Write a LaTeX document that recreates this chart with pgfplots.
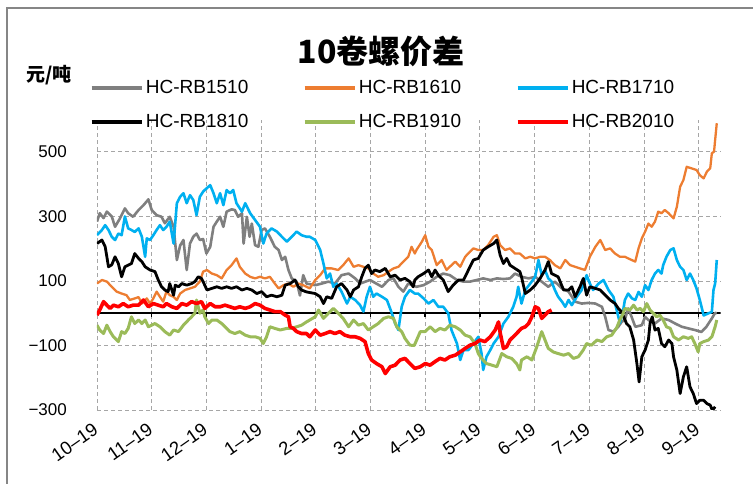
\documentclass[border=0pt]{standalone}
\usepackage{fontspec}
\setmainfont{Liberation Sans}
\newfontfamily\cjk{Noto Sans CJK SC}
\usepackage{pgfplots}
\usepackage{pgfplotstable}
\pgfplotsset{compat=1.18}

\definecolor{cgray}{HTML}{7F7F7F}
\definecolor{corange}{HTML}{ED7D31}
\definecolor{cblue}{HTML}{00B0F0}
\definecolor{cgreen}{HTML}{9BBB59}
\definecolor{cgrid}{HTML}{A6A6A6}
\definecolor{cframe}{HTML}{868686}

% x = months since 1 Oct (0 = 10-19), y = spread in yuan/t
\pgfplotstableread{
x y
0.00 284
0.05 310
0.12 295
0.18 315
0.27 300
0.33 268
0.42 294
0.51 325
0.57 310
0.66 299
0.76 320
0.85 335
0.94 353
1.00 320
1.09 304
1.18 299
1.24 279
1.33 299
1.40 268
1.46 165
1.52 210
1.58 227
1.64 134
1.70 216
1.76 237
1.82 247
1.88 227
1.94 230
2.00 185
2.07 206
2.13 268
2.19 284
2.25 299
2.31 268
2.37 315
2.46 322
2.52 320
2.58 299
2.65 310
2.68 216
2.74 299
2.79 237
2.83 278
2.89 211
2.95 206
3.01 258
3.07 263
3.16 237
3.25 206
3.32 196
3.38 165
3.44 175
3.50 134
3.56 108
3.65 98
3.71 55
3.77 118
3.83 92
3.99 87
4.11 92
4.23 98
4.35 92
4.47 118
4.60 123
4.72 108
4.81 92
4.99 103
5.21 82
5.33 103
5.42 108
5.51 82
5.60 67
5.69 92
5.84 82
5.97 87
6.09 98
6.21 113
6.33 123
6.45 118
6.58 103
6.70 98
6.82 98
6.94 103
7.06 108
7.19 103
7.31 108
7.43 106
7.55 108
7.64 123
7.76 113
7.89 108
8.01 113
8.13 98
8.25 82
8.37 98
8.50 77
8.62 67
8.74 36
8.86 30
8.98 32
9.11 30
9.23 20
9.29 -11
9.35 -52
9.44 -57
9.53 -42
9.59 -27
9.65 -20
9.71 15
9.77 -10
9.84 -42
9.96 -37
10.02 -11
10.08 -21
10.20 -32
10.32 -16
10.45 -21
10.57 -32
10.69 -42
10.81 -47
10.93 -52
11.05 -58
11.14 -42
11.24 -16
11.30 1
11.33 0
}\rbfifteen

\pgfplotstableread{
x y
0.00 92
0.09 103
0.18 98
0.27 82
0.36 67
0.45 61
0.54 56
0.60 41
0.69 46
0.76 50
0.82 30
0.91 46
0.97 30
1.03 46
1.09 67
1.15 51
1.21 36
1.27 67
1.33 56
1.40 51
1.46 41
1.52 61
1.61 72
1.70 77
1.79 82
1.88 98
1.94 129
2.01 134
2.10 123
2.19 118
2.28 108
2.37 134
2.46 149
2.55 170
2.61 144
2.71 123
2.80 113
2.89 108
2.98 113
3.07 108
3.16 113
3.25 92
3.32 77
3.41 87
3.50 92
3.59 82
3.68 92
3.77 87
3.89 77
3.99 103
4.08 118
4.17 139
4.29 139
4.41 134
4.50 149
4.60 170
4.69 144
4.78 149
4.87 144
4.96 139
5.05 123
5.14 113
5.24 118
5.33 129
5.42 139
5.51 144
5.60 160
5.69 175
5.75 206
5.81 185
5.84 196
5.94 222
6.00 242
6.06 206
6.12 196
6.21 149
6.30 165
6.39 134
6.48 149
6.55 160
6.64 144
6.73 175
6.82 191
6.88 201
6.97 196
7.06 196
7.15 211
7.25 237
7.31 242
7.37 211
7.46 196
7.55 201
7.64 185
7.73 185
7.83 170
7.92 175
8.01 170
8.10 175
8.19 175
8.28 165
8.37 149
8.47 139
8.56 165
8.65 149
8.74 144
8.83 139
8.92 134
9.01 175
9.11 206
9.20 227
9.29 196
9.38 201
9.47 185
9.56 175
9.65 175
9.71 170
9.84 160
9.90 201
9.96 232
10.02 253
10.08 278
10.14 268
10.20 284
10.26 315
10.32 310
10.38 320
10.45 310
10.54 294
10.60 330
10.66 392
10.72 413
10.78 454
10.87 449
10.96 444
11.02 428
11.09 418
11.15 439
11.21 449
11.24 496
11.28 501
11.30 537
11.33 589
}\rbsixteen

\pgfplotstableread{
x y
0.00 242
0.09 258
0.15 273
0.21 258
0.27 237
0.33 227
0.39 247
0.45 242
0.51 300
0.57 263
0.63 258
0.69 252
0.76 263
0.82 237
0.88 175
0.91 232
0.97 227
1.03 242
1.09 258
1.15 273
1.21 258
1.27 268
1.33 284
1.40 216
1.46 341
1.52 361
1.58 372
1.64 341
1.70 366
1.76 351
1.82 304
1.88 361
1.94 377
1.97 382
2.07 397
2.13 372
2.19 341
2.25 372
2.31 335
2.37 382
2.43 372
2.49 382
2.55 341
2.65 315
2.71 341
2.80 310
2.89 289
2.98 268
3.04 216
3.10 247
3.19 263
3.29 253
3.38 237
3.47 222
3.56 237
3.65 253
3.74 242
3.83 237
3.89 237
3.99 227
4.08 196
4.14 154
4.20 108
4.26 123
4.32 82
4.38 92
4.47 67
4.57 30
4.63 51
4.72 41
4.81 25
4.87 5
4.93 51
4.99 82
5.05 51
5.11 61
5.21 51
5.30 41
5.39 0
5.45 -32
5.51 -52
5.57 20
5.63 51
5.72 72
5.81 61
5.87 61
5.97 46
6.06 30
6.15 41
6.24 20
6.33 20
6.42 0
6.48 -52
6.58 -94
6.64 -145
6.70 -114
6.79 -114
6.88 -94
6.97 -73
7.03 -125
7.06 -176
7.12 -135
7.19 -114
7.25 -94
7.34 -73
7.43 -32
7.52 -11
7.61 20
7.67 51
7.70 82
7.76 30
7.83 72
7.92 92
8.01 113
8.07 165
8.13 118
8.19 134
8.25 108
8.31 98
8.37 72
8.43 51
8.50 36
8.56 20
8.62 41
8.68 25
8.77 51
8.86 72
8.95 118
9.01 92
9.07 72
9.17 92
9.26 103
9.35 72
9.44 51
9.50 10
9.56 -30
9.62 10
9.65 41
9.71 61
9.78 46
9.84 41
9.90 66
9.96 51
10.02 87
10.08 72
10.14 103
10.20 123
10.26 134
10.32 123
10.35 149
10.41 175
10.48 196
10.54 201
10.60 165
10.66 144
10.72 134
10.78 103
10.84 123
10.90 103
10.96 77
11.02 41
11.09 -7
11.18 0
11.24 4
11.27 72
11.30 92
11.33 165
}\rbseventeen

\pgfplotstableread{
x y
0.00 216
0.09 227
0.15 206
0.21 144
0.27 150
0.33 175
0.39 154
0.45 113
0.51 144
0.57 149
0.63 154
0.69 185
0.76 170
0.82 160
0.88 144
0.97 134
1.06 129
1.12 103
1.18 82
1.24 72
1.30 67
1.33 92
1.40 56
1.43 87
1.49 82
1.55 92
1.64 87
1.73 92
1.79 98
1.85 113
1.91 108
1.94 98
2.01 72
2.10 77
2.19 82
2.28 77
2.37 82
2.46 77
2.55 82
2.65 72
2.74 77
2.83 72
2.92 61
3.01 67
3.10 51
3.19 56
3.29 51
3.38 56
3.44 87
3.53 92
3.62 103
3.68 82
3.74 72
3.83 66
3.99 61
4.08 51
4.14 30
4.20 51
4.29 46
4.38 82
4.47 92
4.57 72
4.63 51
4.69 72
4.78 82
4.84 113
4.90 139
4.96 149
5.02 123
5.08 134
5.17 129
5.27 139
5.36 113
5.45 118
5.54 103
5.63 108
5.72 98
5.78 82
5.81 103
5.87 113
5.97 123
6.06 134
6.12 113
6.18 134
6.24 118
6.33 103
6.42 67
6.51 87
6.61 103
6.70 103
6.79 134
6.88 165
6.97 170
7.06 196
7.15 206
7.25 216
7.31 227
7.37 180
7.43 154
7.49 170
7.55 149
7.64 139
7.73 129
7.76 113
7.83 61
7.92 72
8.01 87
8.10 108
8.19 134
8.25 160
8.31 123
8.37 118
8.43 113
8.53 72
8.62 72
8.68 82
8.74 51
8.83 82
8.89 108
8.95 56
9.01 82
9.11 77
9.20 72
9.29 56
9.38 41
9.47 30
9.53 15
9.59 5
9.68 -32
9.74 -42
9.81 -83
9.87 -156
9.91 -213
9.96 -135
10.02 -114
10.08 -83
10.11 -32
10.15 -11
10.20 -52
10.26 -47
10.32 -94
10.38 -104
10.45 -83
10.51 -94
10.54 -135
10.60 -176
10.66 -249
10.72 -197
10.78 -166
10.84 -228
10.90 -249
10.96 -280
11.02 -270
11.09 -270
11.15 -280
11.21 -285
11.25 -301
11.30 -290
}\rbeighteen

\pgfplotstableread{
x y
0.00 -37
0.05 -52
0.12 -63
0.18 -37
0.24 -57
0.30 -73
0.39 -88
0.45 -57
0.51 -63
0.57 -47
0.63 -11
0.69 -32
0.76 -21
0.82 -32
0.88 -21
0.94 -42
1.00 -37
1.06 -32
1.15 -42
1.24 -57
1.33 -68
1.40 -52
1.49 -57
1.58 -37
1.67 -21
1.73 -11
1.79 0
1.82 41
1.88 0
1.94 10
1.97 -11
2.04 -32
2.10 -21
2.19 -21
2.28 -32
2.34 -42
2.43 -57
2.52 -63
2.61 -57
2.71 -68
2.80 -73
2.89 -73
2.98 -78
3.04 -94
3.10 -73
3.16 -42
3.25 -47
3.35 -52
3.47 -47
3.56 -47
3.65 -42
3.74 -37
3.83 -27
3.89 -21
3.99 -11
4.05 10
4.14 -16
4.23 0
4.32 15
4.41 0
4.50 -16
4.60 -42
4.69 -21
4.78 -37
4.87 -32
4.96 -52
5.05 -42
5.14 -32
5.24 -16
5.33 -11
5.42 -16
5.48 -42
5.57 -57
5.63 -78
5.72 -99
5.80 -100
5.91 -57
6.00 -57
6.09 -42
6.18 -57
6.27 -47
6.36 -52
6.45 -37
6.55 -42
6.64 -52
6.73 -68
6.82 -73
6.91 -94
6.97 -125
7.03 -140
7.12 -156
7.22 -161
7.31 -166
7.40 -125
7.49 -135
7.58 -140
7.67 -156
7.73 -176
7.76 -145
7.86 -135
7.95 -145
8.04 -104
8.13 -57
8.19 -83
8.25 -109
8.34 -120
8.43 -125
8.53 -130
8.62 -125
8.71 -140
8.80 -135
8.89 -114
8.95 -94
9.04 -99
9.14 -83
9.23 -88
9.32 -73
9.41 -68
9.50 -45
9.56 -20
9.62 0
9.65 15
9.74 10
9.81 25
9.87 10
9.93 15
9.99 5
10.05 30
10.11 10
10.17 0
10.23 -11
10.29 -6
10.35 -21
10.41 -42
10.48 -47
10.54 -73
10.63 -83
10.72 -73
10.81 -78
10.87 -73
10.93 -94
10.99 -120
11.02 -94
11.09 -88
11.18 -83
11.24 -73
11.30 -42
11.33 -21
}\rbnineteen

\pgfplotstableread{
x y
0.00 -6
0.05 10
0.12 36
0.18 25
0.24 15
0.30 25
0.39 20
0.48 30
0.57 20
0.66 25
0.76 25
0.85 41
0.94 20
1.03 30
1.12 25
1.21 20
1.27 30
1.37 20
1.46 15
1.55 30
1.64 25
1.73 36
1.82 30
1.91 36
1.97 15
2.07 30
2.16 20
2.25 20
2.34 25
2.43 20
2.52 15
2.61 20
2.71 15
2.80 20
2.89 30
2.98 25
3.07 15
3.16 10
3.25 5
3.35 5
3.44 -6
3.50 -11
3.53 -42
3.59 -47
3.65 -57
3.74 -63
3.83 -63
3.89 -73
3.99 -52
4.08 -68
4.17 -63
4.26 -57
4.35 -63
4.44 -57
4.53 -68
4.63 -73
4.72 -73
4.81 -78
4.90 -88
4.96 -125
5.02 -145
5.11 -156
5.21 -166
5.27 -187
5.36 -166
5.45 -161
5.54 -145
5.63 -140
5.72 -156
5.81 -171
5.91 -166
6.00 -156
6.09 -161
6.18 -150
6.27 -140
6.36 -145
6.45 -135
6.55 -130
6.64 -120
6.73 -109
6.82 -99
6.91 -94
7.00 -83
7.09 -88
7.19 -73
7.28 -52
7.34 -27
7.37 -60
7.43 -109
7.49 -104
7.55 -83
7.61 -73
7.67 -63
7.73 -52
7.76 -47
7.83 -42
7.89 -32
7.95 -11
8.01 20
8.07 15
8.13 -16
8.19 -6
8.25 5
8.31 10
}\rbtwenty

\begin{document}
\begin{tikzpicture}
  \path[use as bounding box] (0pt,0pt) rectangle (753pt,484pt);
  \draw[cframe, line width=1.2pt] (7pt,-20pt) rectangle (800pt,476pt);
  \node[font=\cjk\bfseries\fontsize{32}{36}\selectfont] at (381pt,433pt) {10卷螺价差};
  \node[font=\cjk\bfseries\fontsize{19}{22}\selectfont] at (49pt,409pt) {元/吨};

  \begin{axis}[
    at={(97pt,74pt)}, anchor=south west,
    scale only axis,
    width=623.6pt, height=290.3pt,
    xmin=0, xmax=11.4,
    ymin=-300, ymax=600,
    axis line style={draw=none},
    tick style={draw=none},
    xtick={0,...,11},
    xticklabels={10--19,11--19,12--19,1--19,2--19,3--19,4--19,5--19,6--19,7--19,8--19,9--19},
    ytick={-300,-100,100,300,500},
    yticklabels={−300,−100,100,300,500},
    tick label style={font=\fontsize{17}{19}\selectfont},
    yticklabel style={anchor=east, inner sep=0pt, xshift=-30pt},
    xticklabel style={font=\fontsize{18.5}{20}\selectfont, xshift=-5pt, yshift=-12pt, rotate=35, anchor=north east, inner sep=0pt},
    grid=major,
    major grid style={cgrid, line width=0.9pt, dash pattern=on 4pt off 3pt},
    no markers,
    every axis plot/.append style={line join=round},
    legend columns=3,
    legend cell align=left,
    legend image code/.code={\draw[#1, line width=4.5pt] (0pt,0pt) -- (50pt,0pt);},
    legend style={
      at={(-0.0125,1.142)}, anchor=north west,
      draw=none, fill=none, inner sep=0pt,
      font=\fontsize{19}{22}\selectfont,
      row sep=15pt,
      /tikz/every even column/.append style={column sep=52pt},
    },
  ]
    \addplot[black, line width=2pt, forget plot] coordinates {(0,0) (11.4,0)};
    \pgfplotsinvokeforeach{1,...,11}{
      \draw[black, line width=1.5pt] (axis cs:#1,0) -- (axis cs:#1,-13);
    }
    \addplot[cgray, line width=2.6pt] table {\rbfifteen};
    \addlegendentry{HC-RB1510}
    \addplot[corange, line width=2.3pt] table {\rbsixteen};
    \addlegendentry{HC-RB1610}
    \addplot[cblue, line width=2.6pt] table {\rbseventeen};
    \addlegendentry{HC-RB1710}
    \addplot[black, line width=2.8pt] table {\rbeighteen};
    \addlegendentry{HC-RB1810}
    \addplot[cgreen, line width=3pt] table {\rbnineteen};
    \addlegendentry{HC-RB1910}
    \addplot[red, line width=3.6pt] table {\rbtwenty};
    \addlegendentry{HC-RB2010}
  \end{axis}
\end{tikzpicture}
\end{document}
